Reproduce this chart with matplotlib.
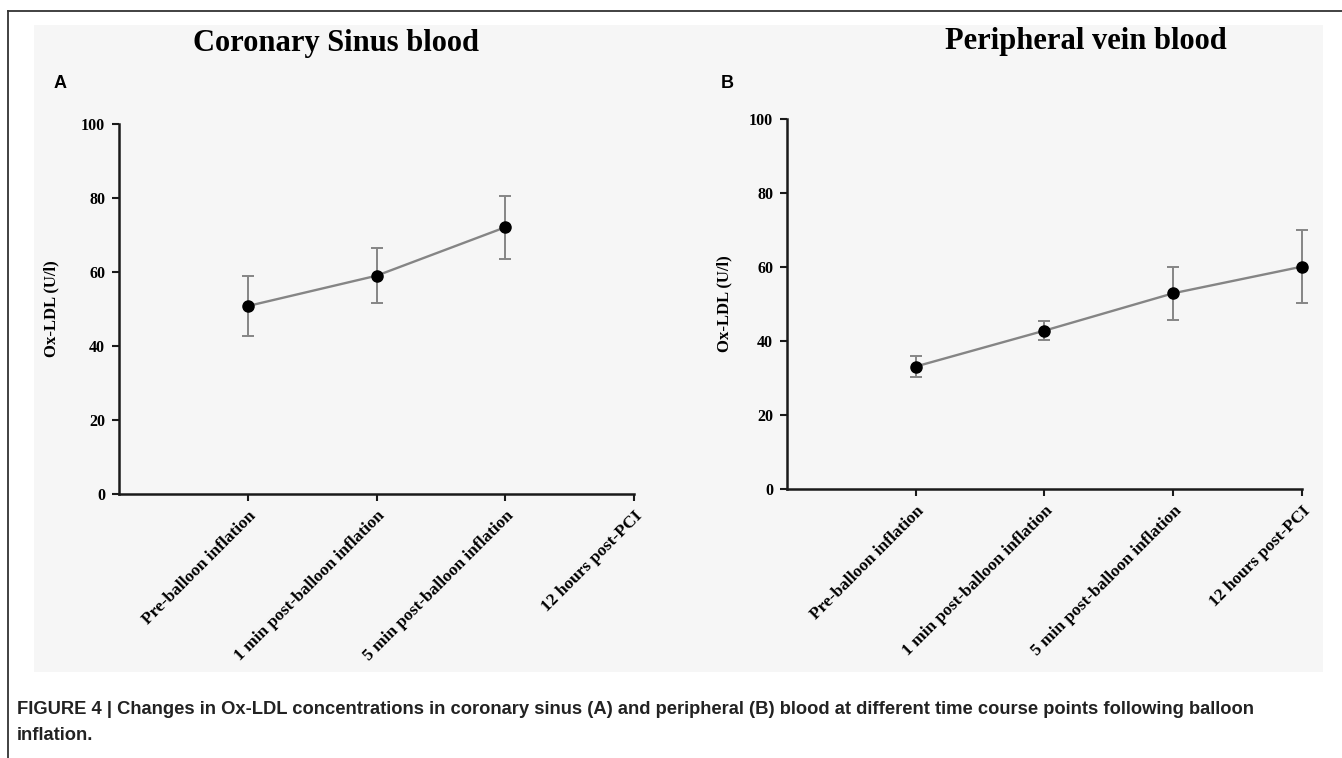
import numpy as np
import matplotlib
matplotlib.use("Agg")
import matplotlib.pyplot as plt
import matplotlib.patches as mpatches
from matplotlib.lines import Line2D

# Time points shared by both panels
time_points = [
    "Pre-balloon inflation",
    "1 min post-balloon inflation",
    "5 min post-balloon inflation",
    "12 hours post-PCI",
]

# Panel A: coronary sinus blood (no 12 h sample)
cs_mean = [50.8, 59.0, 72.1]
cs_err = [8.2, 7.4, 8.5]

# Panel B: peripheral vein blood
pv_mean = [33.1, 42.8, 52.9, 60.1]
pv_err = [2.8, 2.5, 7.1, 9.9]

y_ticks = [0, 20, 40, 60, 80, 100]

SERIF = "Liberation Serif"
SANS = "Liberation Sans"

fig = plt.figure(figsize=(13.42, 7.58), dpi=100)
fig.patch.set_facecolor("white")

# light grey backdrop of the embedded chart image
fig.patches.append(mpatches.Rectangle(
    (0.0253, 0.1135), 0.9605, 0.8536, transform=fig.transFigure,
    facecolor="#f6f6f6", edgecolor="none", zorder=-5))

# page frame lines (top and left)
fig.lines.append(Line2D([0.006, 1.0], [0.9855, 0.9855], transform=fig.transFigure,
                        color="#333333", lw=1.3, zorder=-4))
fig.lines.append(Line2D([0.006, 0.006], [0.0, 0.9855], transform=fig.transFigure,
                        color="#333333", lw=1.3, zorder=-4))


def draw_panel(ax, means, errs, label_x):
    x = np.arange(1, len(means) + 1)
    eb = ax.errorbar(x, means, yerr=errs, color="#858585", lw=1.7,
                     ecolor="#858585", elinewidth=1.4, capsize=4.3, capthick=1.4,
                     marker="o", markersize=8, markerfacecolor="black",
                     markeredgecolor="black", zorder=3)
    # last time point sits on the axis edge, so don't clip it
    for art in eb.get_children():
        art.set_clip_on(False)
    ax.set_xlim(0, 4)
    ax.set_ylim(0, 100)
    ax.set_xticks(np.arange(1, len(time_points) + 1))
    ax.set_xticklabels(time_points, rotation=45, ha="right", va="top",
                       rotation_mode="anchor", family=SERIF,
                       fontweight="bold", fontsize=12.5)
    ax.set_yticks(y_ticks)
    ax.set_yticklabels([str(v) for v in y_ticks], family=SERIF,
                       fontweight="bold", fontsize=11.5)
    ax.set_ylabel("Ox-LDL (U/l)", family=SERIF, fontweight="bold",
                  fontsize=12)
    ax.yaxis.set_label_coords(label_x, 0.5)
    ax.patch.set_alpha(0)
    for s in ["top", "right"]:
        ax.spines[s].set_visible(False)
    for s in ["left", "bottom"]:
        ax.spines[s].set_linewidth(1.8)
        ax.spines[s].set_color("#1a1a1a")
    ax.tick_params(direction="out", length=5, width=1.5, color="#1a1a1a",
                   pad=5)


ax1 = fig.add_axes([0.0887, 0.3483, 0.3838, 0.4881])
draw_panel(ax1, cs_mean, cs_err, -0.115)

ax2 = fig.add_axes([0.5864, 0.3549, 0.3838, 0.4881])
draw_panel(ax2, pv_mean, pv_err, -0.105)

# panel titles and letters
fig.text(336 / 1342, 1 - 43 / 758, "Coronary Sinus blood", family=SERIF,
         fontweight="bold", fontsize=22, ha="center", va="center")
fig.text(1086 / 1342, 1 - 42 / 758, "Peripheral vein blood", family=SERIF,
         fontweight="bold", fontsize=22, ha="center", va="center")
fig.text(54 / 1342, 1 - 83 / 758, "A", family=SANS, fontweight="bold",
         fontsize=13, ha="left", va="center")
fig.text(721 / 1342, 1 - 83 / 758, "B", family=SANS, fontweight="bold",
         fontsize=13, ha="left", va="center")

# caption
fig.text(17 / 1342, 1 - 710 / 758,
         "FIGURE 4 | Changes in Ox-LDL concentrations in coronary sinus (A) and "
         "peripheral (B) blood at different time course points following balloon",
         family=SANS, fontweight="bold", fontsize=13.2, ha="left", va="center",
         color="#222222")
fig.text(17 / 1342, 1 - 735 / 758, "inflation.", family=SANS,
         fontweight="bold", fontsize=13.2, ha="left", va="center",
         color="#222222")

fig.savefig("out.png", dpi=100, facecolor="white")
